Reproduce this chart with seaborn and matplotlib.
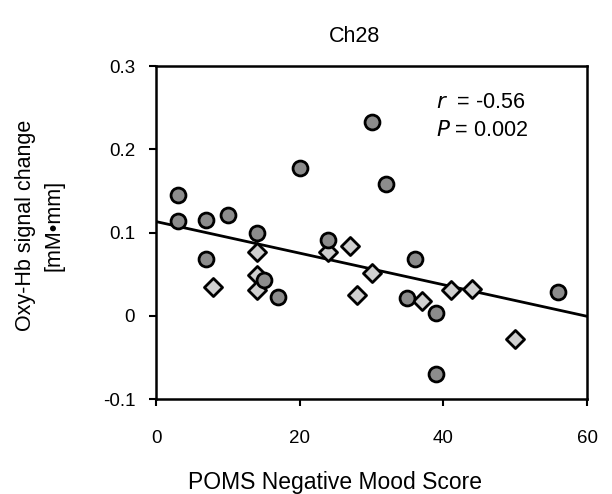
import matplotlib
matplotlib.use("Agg")
import matplotlib.pyplot as plt
import seaborn as sns
import numpy as np
import pandas as pd

# Data
circle_x = [3, 3, 7, 10, 14, 7, 15, 17, 20, 30, 32, 24, 36, 35, 39, 39, 56]
circle_y = [0.145, 0.114, 0.115, 0.121, 0.099, 0.068, 0.043, 0.022, 0.178,
            0.233, 0.158, 0.091, 0.068, 0.021, 0.003, -0.070, 0.028]
diamond_x = [14, 14, 14, 8, 24, 27, 30, 28, 37, 41, 44, 50]
diamond_y = [0.077, 0.049, 0.031, 0.035, 0.077, 0.084, 0.051, 0.025, 0.018,
             0.031, 0.032, -0.028]
x_ticks = [0, 20, 40, 60]
y_ticks = [-0.1, 0, 0.1, 0.2, 0.3]
y_tick_labels = ["-0.1", "0", "0.1", "0.2", "0.3"]

df = pd.DataFrame({
    "x": circle_x + diamond_x,
    "y": circle_y + diamond_y,
    "group": ["circle"] * len(circle_x) + ["diamond"] * len(diamond_x),
})

sns.set_theme(style="white")
plt.rcParams["font.family"] = ["Liberation Sans", "DejaVu Sans"]

W, H = 612, 494
fig = plt.figure(figsize=(W / 100, H / 100), dpi=100)
ax = fig.add_axes([156 / W, 1 - 399 / H, (587 - 156) / W, (399 - 66) / H])

ax.set_xlim(0, 60)
ax.set_ylim(-0.1, 0.3)

sns.regplot(data=df, x="x", y="y", ax=ax, scatter=False, ci=None, truncate=False,
            line_kws=dict(color="black", lw=2))

sns.scatterplot(data=df[df.group == "diamond"], x="x", y="y", ax=ax, marker="D",
                s=85, color="#cfcfcf", edgecolor="black", linewidth=2, zorder=3)
sns.scatterplot(data=df[df.group == "circle"], x="x", y="y", ax=ax, marker="o",
                s=115, color="#8c8c8c", edgecolor="black", linewidth=2, zorder=4)

ax.set_xlim(0, 60)
ax.set_ylim(-0.1, 0.3)
ax.set_xticks(x_ticks)
ax.set_yticks(y_ticks)
ax.set_yticklabels(y_tick_labels)
ax.tick_params(axis="both", direction="out", length=5, width=1.5, color="black",
               labelsize=13.5, labelcolor="black", left=True, bottom=True)
ax.tick_params(axis="x", pad=17)
ax.tick_params(axis="y", pad=10)

for s in ax.spines.values():
    s.set_color("black")
    s.set_linewidth(1.8)

ax.set_xlabel("")
ax.set_ylabel("")

fig.text(335 / W, 1 - 482 / H, "POMS Negative Mood Score", fontsize=16.5,
         color="black", ha="center", va="center")
fig.text(40 / W, 1 - 225 / H, "Oxy-Hb signal change\n[mM\u2022mm]", fontsize=15.5,
         color="black", ha="center", va="center", rotation=90,
         multialignment="center", linespacing=1.45)
fig.text(354 / W, 1 - 37 / H, "Ch28", fontsize=15.5, color="black",
         ha="center", va="center")

fig.text(436 / W, 1 - 103 / H, "$\\it{r}$  = -0.56", fontsize=15.5,
         color="black", ha="left", va="center")
fig.text(436 / W, 1 - 130 / H, "$\\it{P}$ = 0.002", fontsize=15.5,
         color="black", ha="left", va="center")

fig.savefig("out.png", dpi=100)
